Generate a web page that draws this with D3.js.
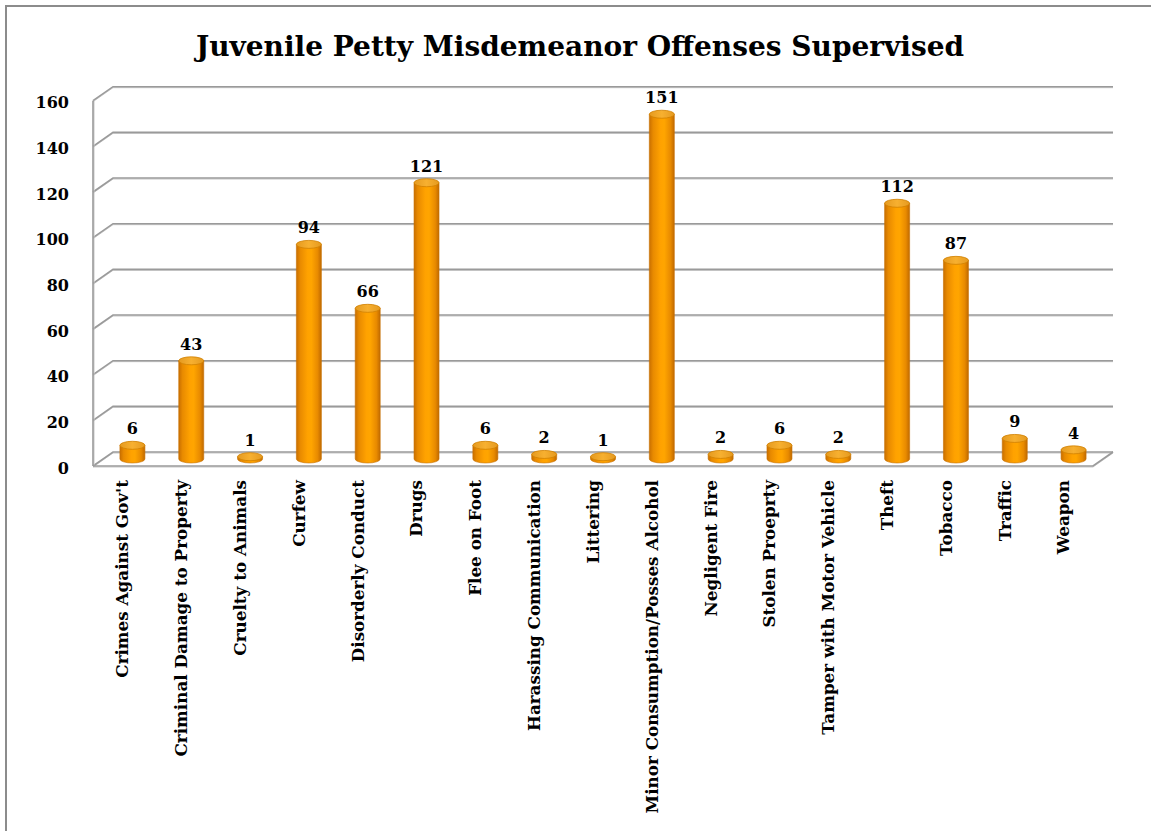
<!DOCTYPE html>
<html><head><meta charset="utf-8">
<script src="https://cdn.jsdelivr.net/npm/d3@7/dist/d3.min.js"></script>
<style>body{margin:0;background:#fff}svg{display:block}</style>
</head><body>
<svg id="c" width="1151" height="831"></svg>
<script>
const categories = ["Crimes Against Gov't","Criminal Damage to Property","Cruelty to Animals","Curfew","Disorderly Conduct","Drugs","Flee on Foot","Harassing Communication","Littering","Minor Consumption/Posses Alcohol","Negligent Fire","Stolen Proeprty","Tamper with Motor Vehicle","Theft","Tobacco","Traffic","Weapon"];
const values = [6,43,1,94,66,121,6,2,1,151,2,6,2,112,87,9,4];
const yTicks = [0,20,40,60,80,100,120,140,160];
const title = "Juvenile Petty Misdemeanor Offenses Supervised";

const svg = d3.select("#c");
const FONT = "'Palatino Linotype','Book Antiqua',Palatino,'DejaVu Serif',serif";
const depthX = 20, depthY = -14;
const x = d3.scaleBand().domain(categories).range([93, 1093]).paddingInner(0).paddingOuter(0);
const yFront = d3.scaleLinear().domain([0,160]).range([466, 100.7]);
const yMid = v => yFront(v) + depthY/2;

// border
svg.append("rect").attr("x",6).attr("y",6).attr("width",1160).attr("height",840)
  .attr("fill","none").attr("stroke","#8c8c8c").attr("stroke-width",2);

// title
svg.append("text").attr("x",580).attr("y",56).attr("text-anchor","middle")
  .attr("font-family",FONT).attr("font-weight","bold").attr("font-size",28).attr("fill","#000").text(title);

const grid = svg.append("g");
yTicks.forEach(t => {
  const yf = yFront(t), yb = yf + depthY;
  [["#c8c8c8",1,1],["#9a9a9a",1.6,0]].forEach(([c,w,o]) => {
    grid.append("path").attr("d",`M93,${yf+o} L${93+depthX},${yb+o} L${1093+depthX},${yb+o}`)
      .attr("fill","none").attr("stroke",c).attr("stroke-width",w);
  });
});
[["#c8c8c8",1,1],["#9a9a9a",1.6,0]].forEach(([c,w,o]) => {
  grid.append("path").attr("d",`M${93+o},${yFront(160)} L${93+o},${yFront(0)}`).attr("fill","none").attr("stroke",c).attr("stroke-width",w);
  grid.append("path").attr("d",`M93,${yFront(0)+o} L1093,${yFront(0)+o} L${1093+depthX},${yFront(0)+depthY+o}`).attr("fill","none").attr("stroke",c).attr("stroke-width",w);
});

svg.append("g").selectAll("text").data(yTicks).join("text")
  .attr("x",69).attr("y",d=>yFront(d)+2).attr("dy","0.35em").attr("text-anchor","end")
  .attr("font-family",FONT).attr("font-weight","bold").attr("font-size",16).text(d=>d);

const defs = svg.append("defs");
const g1 = defs.append("linearGradient").attr("id","body").attr("x1",0).attr("x2",1).attr("y1",0).attr("y2",0);
[[0,"#c96f00"],[0.15,"#e88a00"],[0.45,"#ffa200"],[0.6,"#ffa500"],[0.85,"#e88a00"],[1,"#c06a00"]].forEach(([o,c])=>g1.append("stop").attr("offset",o).attr("stop-color",c));
const g2 = defs.append("linearGradient").attr("id","top").attr("x1",0).attr("x2",1).attr("y1",0).attr("y2",0);
[[0,"#e59a20"],[0.5,"#f7b030"],[1,"#e59a20"]].forEach(([o,c])=>g2.append("stop").attr("offset",o).attr("stop-color",c));

const rx = 12.5, ry = 4;
const bars = svg.append("g").selectAll("g").data(categories.map((c,i)=>({c,v:values[i]}))).join("g");
bars.each(function(d){
  const g = d3.select(this);
  const cx = x(d.c) + x.bandwidth()/2 + depthX/2;
  const yb = yMid(0), yt = yMid(d.v);
  g.append("path").attr("d",`M${cx-rx},${yt} L${cx-rx},${yb} A${rx},${ry} 0 0 0 ${cx+rx},${yb} L${cx+rx},${yt} Z`)
    .attr("fill","url(#body)").attr("stroke","#c87000").attr("stroke-width",0.6);
  g.append("ellipse").attr("cx",cx).attr("cy",yt).attr("rx",rx).attr("ry",ry)
    .attr("fill","url(#top)").attr("stroke","#d08000").attr("stroke-width",0.8);
  g.append("text").attr("x",cx).attr("y",yt-ry-7).attr("text-anchor","middle")
    .attr("font-family",FONT).attr("font-weight","bold").attr("font-size",16).text(d.v);
});

svg.append("g").selectAll("text").data(categories).join("text")
  .attr("transform",d=>`translate(${x(d)+x.bandwidth()/2},480) rotate(-90)`)
  .attr("dy","0.35em").attr("text-anchor","end")
  .attr("font-family",FONT).attr("font-weight","bold").attr("font-size",16.8).text(d=>d);
</script>
</body></html>
